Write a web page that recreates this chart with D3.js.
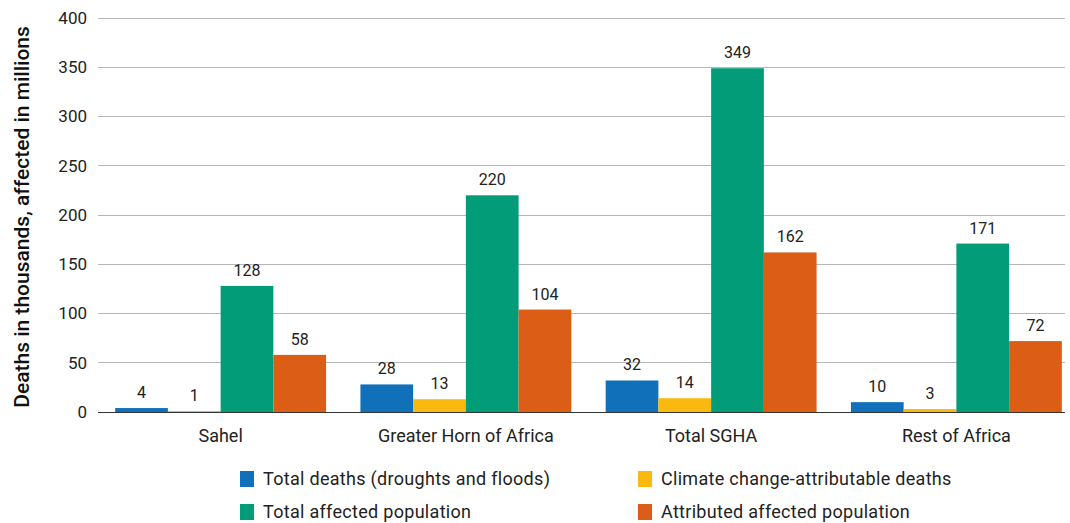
<!DOCTYPE html>
<html><head><meta charset="utf-8">
<script src="https://cdn.jsdelivr.net/npm/d3@7"></script>
<style>body{margin:0;background:#fff;}svg{display:block;font-family:Roboto,sans-serif;}</style>
</head><body>
<svg id="c" width="1070" height="523"></svg>
<script>
const categories = ["Sahel", "Greater Horn of Africa", "Total SGHA", "Rest of Africa"];
const seriesNames = ["Total deaths (droughts and floods)", "Climate change-attributable deaths", "Total affected population", "Attributed affected population"];
const totalDeaths = [4, 28, 32, 10];
const attribDeaths = [1, 13, 14, 3];
const totalAffected = [128, 220, 349, 171];
const attribAffected = [58, 104, 162, 72];
const yTicks = [0, 50, 100, 150, 200, 250, 300, 350, 400];
const colors = ["#1170ba", "#f9b90e", "#029c78", "#dc5e16"];

const series = [totalDeaths, attribDeaths, totalAffected, attribAffected];
const svg = d3.select("#c");
const mLeft = 98, mRight = 1079, gridRight = 1065, mTop = 18, mBottom = 412;

const y = d3.scaleLinear().domain([0, 400]).range([mBottom, mTop]);
const x0 = d3.scaleBand().domain(categories).range([mLeft, mRight]).paddingInner(0.14).paddingOuter(0.07);
const x1 = d3.scaleBand().domain(d3.range(4)).range([0, x0.bandwidth()]);

// grid
svg.append("g").selectAll("line").data(yTicks.filter(d => d > 0)).join("line")
  .attr("x1", mLeft).attr("x2", gridRight).attr("y1", d => y(d)).attr("y2", d => y(d))
  .attr("stroke", "#b7b7b7").attr("stroke-width", 1).attr("shape-rendering", "crispEdges");

// y tick labels
svg.append("g").selectAll("text").data(yTicks).join("text")
  .attr("x", 87).attr("y", d => y(d)).attr("dy", "0.35em").attr("text-anchor", "end")
  .attr("font-size", 17).attr("fill", "#222").text(d => d);

// bars
const g = svg.append("g").selectAll("g").data(categories).join("g")
  .attr("transform", d => `translate(${x0(d)},0)`);
g.selectAll("rect").data((d, i) => series.map((s, k) => ({k, v: s[i]}))).join("rect")
  .attr("x", d => x1(d.k)).attr("width", x1.bandwidth())
  .attr("y", d => y(d.v)).attr("height", d => mBottom - y(d.v))
  .attr("fill", d => colors[d.k]);
g.selectAll("text").data((d, i) => series.map((s, k) => ({k, v: s[i]}))).join("text")
  .attr("x", d => x1(d.k) + x1.bandwidth() / 2).attr("y", d => y(d.v) - 10)
  .attr("text-anchor", "middle").attr("font-size", 16).attr("fill", "#222").text(d => d.v);

// baseline
svg.append("line").attr("x1", mLeft).attr("x2", gridRight).attr("y1", mBottom).attr("y2", mBottom)
  .attr("stroke", "#333").attr("stroke-width", 1).attr("shape-rendering", "crispEdges");

// x labels
svg.append("g").selectAll("text").data(categories).join("text")
  .attr("x", d => x0(d) + x0.bandwidth() / 2).attr("y", 442).attr("text-anchor", "middle")
  .attr("font-size", 18).attr("fill", "#222").text(d => d);

// y title
svg.append("text").attr("transform", "translate(29,217) rotate(-90)").attr("text-anchor", "middle")
  .attr("font-size", 21).attr("font-weight", 500).attr("fill", "#111")
  .text("Deaths in thousands, affected in millions");

// legend
const legPos = [[240, 479], [638, 479], [240, 512], [638, 512]];
const leg = svg.append("g").selectAll("g").data(seriesNames).join("g")
  .attr("transform", (d, i) => `translate(${legPos[i][0]},${legPos[i][1]})`);
leg.append("rect").attr("x", 0).attr("y", -8).attr("width", 14).attr("height", 16).attr("fill", (d, i) => colors[i]);
leg.append("text").attr("x", 23).attr("y", 0).attr("dy", "0.35em").attr("font-size", 18)
  .attr("letter-spacing", 0.3).attr("fill", "#222").text(d => d);
</script>
</body></html>
